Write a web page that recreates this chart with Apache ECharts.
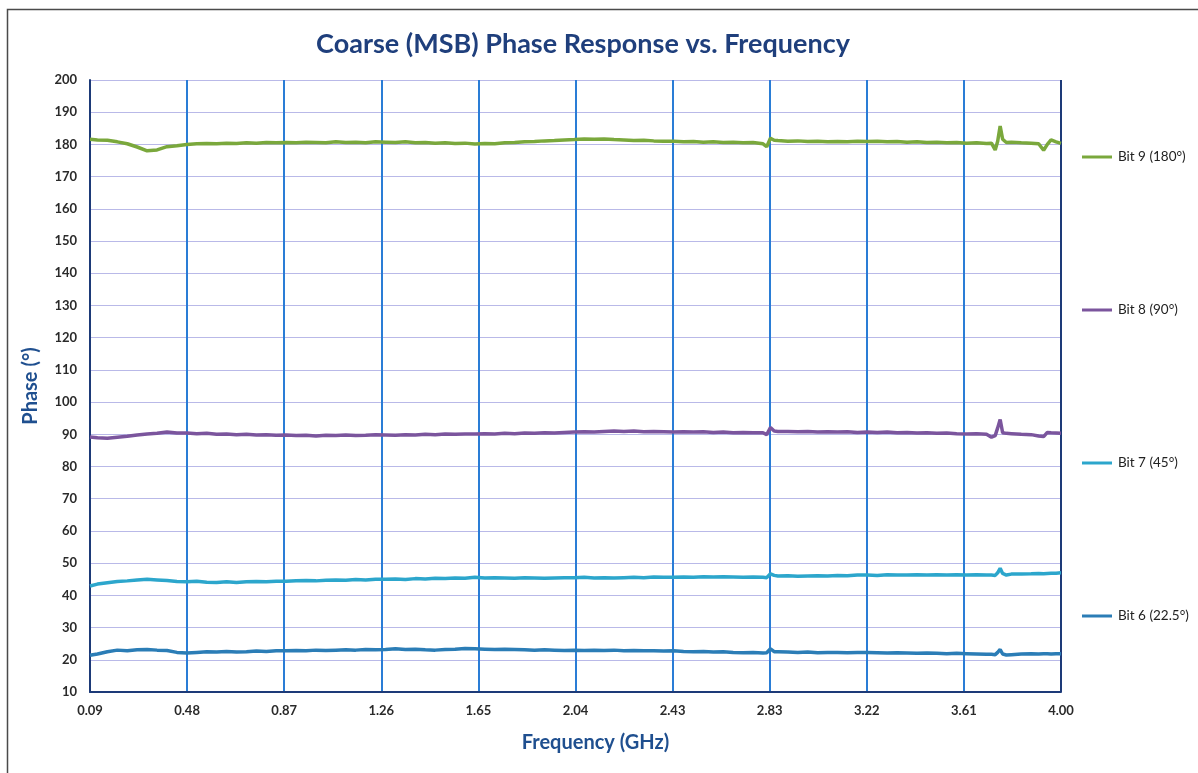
<!DOCTYPE html>
<html>
<head>
<meta charset="utf-8">
<script src="https://cdn.jsdelivr.net/npm/echarts@6/dist/echarts.min.js"></script>
<style>
html,body{margin:0;padding:0;background:#fff;}
#chart{width:1198px;height:773px;}
</style>
</head>
<body>
<div id="chart"></div>
<script>
// Frequency samples (GHz)
var freq = [0.09,0.12,0.16,0.20,0.24,0.28,0.32,0.36,0.40,0.44,0.48,0.52,0.56,0.60,0.64,0.68,0.72,0.76,0.80,0.84,
0.88,0.92,0.96,1.00,1.04,1.08,1.12,1.16,1.20,1.24,1.28,1.32,1.36,1.40,1.44,1.48,1.52,1.56,1.60,1.64,
1.68,1.72,1.76,1.80,1.84,1.88,1.92,1.96,2.00,2.04,2.08,2.12,2.16,2.20,2.24,2.28,2.32,2.36,2.40,2.44,
2.48,2.52,2.56,2.60,2.64,2.68,2.72,2.76,2.80,2.815,2.83,2.845,2.86,2.90,2.94,2.98,3.02,3.06,3.10,3.14,
3.18,3.22,3.26,3.30,3.34,3.38,3.42,3.46,3.50,3.54,3.58,3.62,3.66,3.70,3.72,3.735,3.745,3.755,3.765,3.78,
3.80,3.84,3.88,3.91,3.93,3.945,3.96,3.98,4.00];

var bit9 = [181.6,181.4,181.3,180.8,180.2,179.2,178.0,178.3,179.3,179.6,180.0,180.2,180.3,180.2,180.4,180.3,180.5,180.4,180.6,180.5,
180.6,180.5,180.7,180.6,180.5,180.8,180.6,180.7,180.5,180.8,180.7,180.6,180.8,180.5,180.6,180.4,180.5,180.3,180.4,180.1,
180.3,180.2,180.5,180.6,180.8,180.9,181.1,181.2,181.4,181.5,181.7,181.6,181.7,181.5,181.4,181.2,181.3,181.1,181.0,181.0,
180.8,180.9,180.7,180.8,180.6,180.7,180.5,180.6,180.2,179.3,181.9,181.3,181.2,181.0,181.1,180.9,181.0,180.8,180.9,180.8,
181.0,180.9,181.0,180.8,180.9,180.7,180.8,180.6,180.7,180.5,180.6,180.4,180.5,180.3,180.4,178.3,181.0,185.7,181.6,180.6,
180.7,180.5,180.4,180.2,178.2,180.0,181.4,180.8,180.3];

var bit8 = [89.2,88.9,88.8,89.1,89.4,89.8,90.1,90.3,90.7,90.4,90.4,90.2,90.3,90.0,90.1,89.9,90.0,89.8,89.9,89.7,
89.8,89.6,89.7,89.5,89.7,89.6,89.8,89.6,89.7,89.9,89.8,89.7,89.9,89.8,90.0,89.9,90.1,90.0,90.1,90.1,
90.2,90.1,90.3,90.2,90.4,90.3,90.5,90.4,90.6,90.7,90.8,90.7,90.9,91.0,90.9,91.0,90.8,90.9,90.8,90.7,
90.8,90.7,90.8,90.6,90.7,90.5,90.6,90.5,90.5,89.9,92.1,91.0,90.9,90.9,90.8,90.9,90.7,90.8,90.7,90.8,
90.6,90.7,90.6,90.7,90.5,90.6,90.4,90.5,90.3,90.4,90.2,90.1,90.2,90.0,89.1,89.6,92.0,94.6,90.5,90.3,
90.2,90.0,89.9,89.5,89.3,90.6,90.5,90.4,90.3];

var bit7 = [42.9,43.5,43.9,44.3,44.5,44.8,45.0,44.8,44.6,44.3,44.2,44.4,44.1,44.0,44.2,44.0,44.2,44.3,44.2,44.4,
44.4,44.5,44.6,44.5,44.7,44.8,44.7,44.9,44.8,45.0,45.0,45.1,44.9,45.2,45.1,45.3,45.2,45.4,45.3,45.6,
45.4,45.5,45.4,45.3,45.5,45.4,45.3,45.4,45.5,45.5,45.6,45.4,45.5,45.4,45.5,45.6,45.5,45.7,45.6,45.6,
45.7,45.6,45.8,45.7,45.8,45.7,45.6,45.7,45.6,45.5,46.7,46.2,46.0,46.1,45.9,46.0,46.1,46.0,46.2,46.1,
46.3,46.3,46.2,46.4,46.3,46.3,46.4,46.3,46.4,46.3,46.4,46.3,46.4,46.3,46.3,46.2,47.0,48.4,46.8,46.3,
46.6,46.6,46.7,46.8,46.7,46.8,46.9,46.9,47.0];

var bit6 = [21.4,21.8,22.5,23.0,22.8,23.1,23.2,23.0,22.9,22.3,22.1,22.3,22.5,22.4,22.6,22.4,22.5,22.7,22.6,22.8,
22.8,22.9,22.8,23.0,22.9,23.0,23.1,23.0,23.2,23.1,23.2,23.4,23.2,23.3,23.1,23.0,23.2,23.3,23.5,23.4,
23.3,23.2,23.3,23.2,23.1,23.0,23.1,23.0,22.9,23.0,22.9,23.0,22.9,23.0,22.8,22.9,22.8,22.8,22.7,22.8,
22.6,22.5,22.6,22.4,22.5,22.3,22.2,22.3,22.1,22.2,23.4,22.5,22.5,22.4,22.3,22.4,22.2,22.3,22.3,22.2,
22.3,22.3,22.2,22.1,22.2,22.1,22.0,22.1,22.0,21.9,22.0,21.9,21.8,21.7,21.7,21.6,22.3,23.2,21.8,21.5,
21.6,21.8,21.9,21.8,21.9,21.9,21.8,21.9,21.9];

// Axis ticks
var xTickValues = [0.09,0.481,0.872,1.263,1.654,2.045,2.436,2.827,3.218,3.609,4.00];
var xTickLabels = ['0.09','0.48','0.87','1.26','1.65','2.04','2.43','2.83','3.22','3.61','4.00'];

var seriesNames = ['Bit 9 (180°)','Bit 8 (90°)','Bit 7 (45°)','Bit 6 (22.5°)'];
var seriesColors = ['#7aa83c','#7b559d','#2ca6cc','#2b7db6'];
var seriesData = [bit9, bit8, bit7, bit6];

function pairs(arr){
  var out = [];
  for (var i = 0; i < freq.length; i++) out.push([freq[i], arr[i]]);
  return out;
}

var FONT = 'Lato';
var chart = echarts.init(document.getElementById('chart'), null, {renderer:'canvas'});

var xSplitColors = xTickValues.map(function(v, i){ return i === xTickValues.length - 1 ? '#1d3a78' : '#2a7dd6'; });
var legendIcon = 'path://M0,0 L0,0 M0,5.5 L30,5.5 L30,8.5 L0,8.5 Z M30,14 L30,14';

var option = {
  backgroundColor: '#ffffff',
  animation: false,
  title: {
    text: 'Coarse (MSB) Phase Response vs. Frequency',
    left: 578, top: 26, textAlign: 'center',
    textStyle: {fontFamily: FONT, fontWeight: 'bold', fontSize: 27, color: '#1f3f7c'}
  },
  graphic: [{
    type: 'rect', left: 5, top: 7, silent: true,
    shape: {x: 0, y: 0, width: 1220, height: 800},
    style: {fill: 'none', stroke: '#4a4a4a', lineWidth: 1.5}
  }],
  grid: {left: 90, right: 137, top: 80, bottom: 81, containLabel: false},
  legend: {
    orient: 'vertical',
    left: 1077, top: 145,
    itemGap: 139,
    itemWidth: 32, itemHeight: 14,
    icon: legendIcon,
    data: seriesNames,
    textStyle: {fontFamily: FONT, fontSize: 13.5, color: '#222'}
  },
  xAxis: {
    type: 'value', min: 0.09, max: 4.00,
    name: 'Frequency (GHz)', nameLocation: 'middle', nameGap: 41,
    nameTextStyle: {fontFamily: FONT, fontWeight: 'bold', fontSize: 20, color: '#1f4f8f', padding: [0,0,0,40]},
    axisLine: {show: true, onZero: false, lineStyle: {color: '#1d3a78', width: 2}},
    axisTick: {show: false, customValues: xTickValues},
    axisLabel: {
      customValues: xTickValues,
      margin: 12, fontFamily: FONT, fontWeight: 'bold', fontSize: 13, color: '#2a2a2a',
      formatter: function(v){
        var best = 0, d = 1e9;
        for (var i = 0; i < xTickValues.length; i++) { var dd = Math.abs(xTickValues[i] - v); if (dd < d) { d = dd; best = i; } }
        return xTickLabels[best];
      }
    },
    splitLine: {show: true, lineStyle: {color: xSplitColors, width: 2}}
  },
  yAxis: {
    type: 'value', min: 10, max: 200, interval: 10,
    name: 'Phase (°)', nameLocation: 'middle', nameGap: 49, nameRotate: 90,
    nameTextStyle: {fontFamily: FONT, fontWeight: 'bold', fontSize: 20, color: '#1f4f8f'},
    axisLine: {show: true, lineStyle: {color: '#1d3a78', width: 2}},
    axisTick: {show: false},
    axisLabel: {margin: 13, fontFamily: FONT, fontWeight: 'bold', fontSize: 13, color: '#2a2a2a'},
    splitLine: {show: true, lineStyle: {color: '#b9b9e8', width: 1}}
  },
  series: seriesNames.map(function(n, i){
    return {
      name: n, type: 'line', data: pairs(seriesData[i]),
      symbol: 'none', smooth: false,
      lineStyle: {color: seriesColors[i], width: 3.5},
      itemStyle: {color: seriesColors[i]},
      z: 3
    };
  })
};
chart.setOption(option);
</script>
</body>
</html>
